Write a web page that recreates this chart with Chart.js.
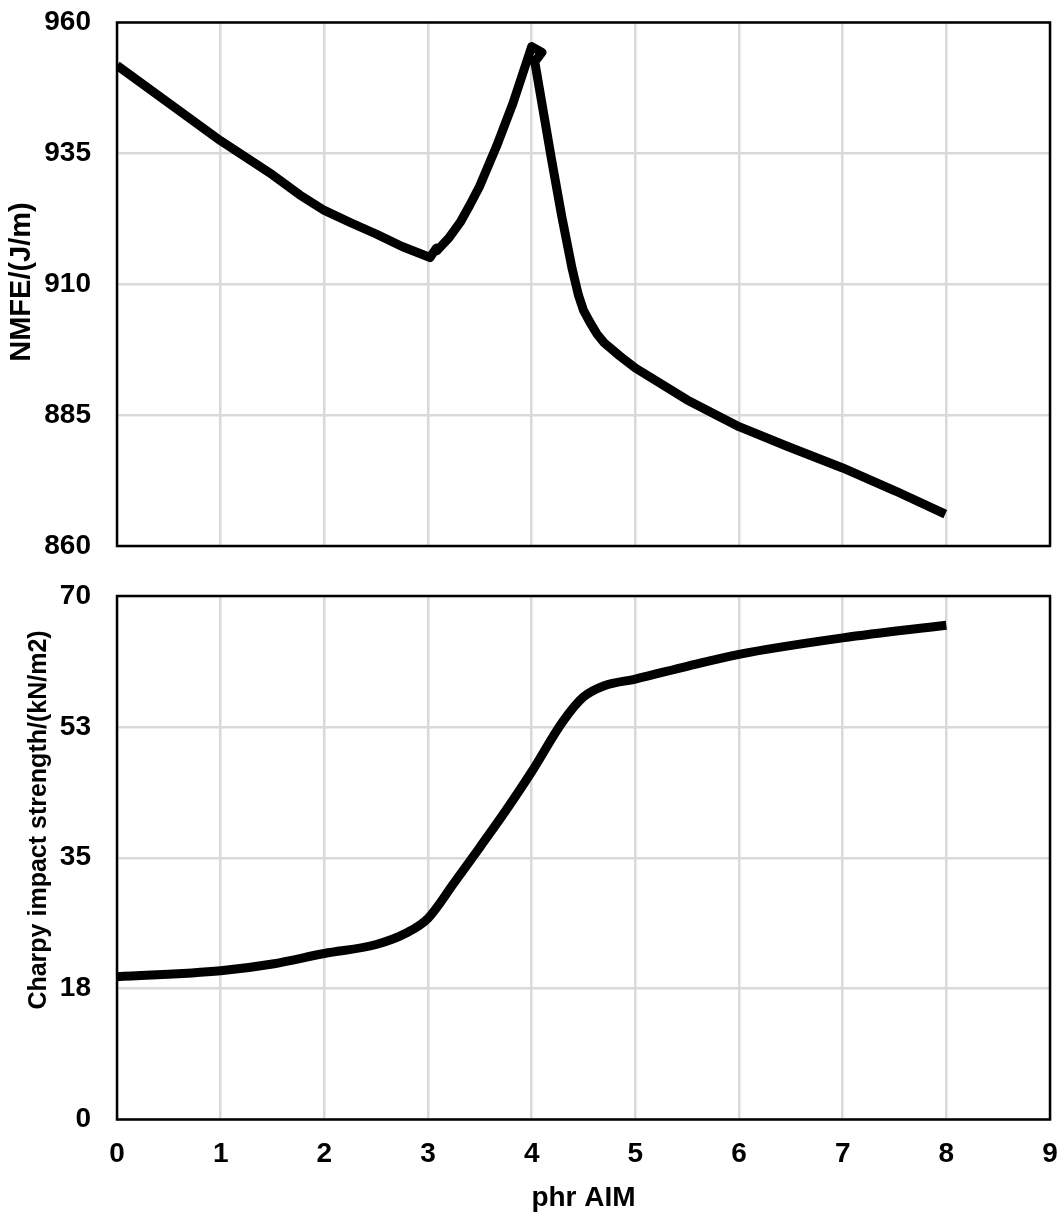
<!DOCTYPE html>
<html>
<head>
<meta charset="utf-8">
<script src="https://cdn.jsdelivr.net/npm/chart.js@4/dist/chart.umd.min.js"></script>
<style>
  html, body { margin: 0; padding: 0; background: #fff; }
  #wrap { position: relative; width: 1064px; height: 1215px; overflow: hidden; background: #fff; }
  #nmfeChart { position: absolute; left: 0; top: 0; }
  #charpyChart { position: absolute; left: 0; top: 570px; }
</style>
</head>
<body>
<div id="wrap">
  <canvas id="nmfeChart" width="1064" height="570"></canvas>
  <canvas id="charpyChart" width="1064" height="645"></canvas>
</div>
<script>
// Notched melt fracture energy vs. AIM loading (phr)
const nmfePhr    = [0, 1.0, 1.5, 1.76, 2.0, 2.26, 2.5, 2.75, 3.02, 3.08, 3.085, 3.2, 3.31, 3.4, 3.5, 3.66, 3.82, 4.0, 4.1, 4.03, 4.19, 4.29, 4.39, 4.45, 4.5, 4.56, 4.63, 4.7, 4.85, 5.0, 5.5, 6.0, 6.47, 7.0, 7.51, 7.99];
const nmfeValues = [951.8, 937.4, 930.9, 927.1, 924.1, 921.7, 919.6, 917.2, 915.1, 916.9, 916.4, 918.8, 921.8, 925.0, 928.8, 936.3, 944.6, 955.4, 954.3, 952.5, 934.0, 923.0, 913.0, 908.0, 905.0, 902.8, 900.5, 898.8, 896.3, 894.0, 887.9, 882.8, 879.0, 874.9, 870.5, 866.1];

// Charpy impact strength vs. AIM loading (phr)
const charpyPhr    = [0, 1, 1.5, 2, 2.5, 2.8, 3, 3.25, 3.5, 3.75, 4, 4.3, 4.5, 4.7, 5, 5.5, 6, 7, 8];
const charpyValues = [19.1, 19.9, 20.8, 22.2, 23.4, 25.0, 26.9, 31.6, 36.4, 41.3, 46.5, 53.2, 56.5, 58.0, 58.9, 60.6, 62.2, 64.4, 66.1];

// Axis ticks
const phrTicks    = [0, 1, 2, 3, 4, 5, 6, 7, 8, 9];
const nmfeTicks   = [860, 885, 910, 935, 960];
const charpyTicks = [0, 17.5, 35, 52.5, 70];

const FONT = '"Liberation Sans", Arial, Helvetica, sans-serif';
const GRID = '#d9d9d9';

// Plot frame on all four sides plus a rotated y-axis title
const frameAndTitle = {
  id: 'frameAndTitle',
  afterDraw(chart, args, opts) {
    const { ctx, chartArea: a } = chart;
    ctx.save();
    ctx.strokeStyle = '#000';
    ctx.lineWidth = 2.5;
    ctx.strokeRect(a.left, a.top, a.right - a.left, a.bottom - a.top);
    ctx.translate(opts.x, opts.y);
    ctx.rotate(-Math.PI / 2);
    ctx.font = 'bold ' + opts.size + 'px ' + FONT;
    ctx.fillStyle = '#000';
    ctx.textAlign = 'center';
    ctx.textBaseline = 'middle';
    ctx.fillText(opts.text, 0, 0);
    ctx.restore();
  }
};

function toPoints(xs, ys) {
  return xs.map((x, i) => ({ x: x, y: ys[i] }));
}

function fixedTicks(values) {
  return function (scale) {
    scale.ticks = values.map(v => ({ value: v }));
  };
}

// Let the layout padding alone decide where the plot area sits
function clearScalePadding(s) {
  s.paddingTop = 0;
  s.paddingBottom = 0;
  s.paddingLeft = 0;
  s.paddingRight = 0;
}

function lineDataset(xs, ys, smooth) {
  return {
    data: toPoints(xs, ys),
    borderColor: '#000',
    borderWidth: 9,
    pointRadius: 0,
    pointHoverRadius: 0,
    fill: false,
    tension: 0,
    cubicInterpolationMode: smooth ? 'monotone' : 'default',
    borderCapStyle: 'butt',
    borderJoinStyle: 'round'
  };
}

function baseOptions(yTicks, yMin, yMax, showX, titleOpts, padding) {
  return {
    responsive: false,
    animation: false,
    devicePixelRatio: 1,
    layout: { padding: padding },
    plugins: {
      legend: { display: false },
      tooltip: { enabled: false },
      frameAndTitle: titleOpts
    },
    scales: {
      x: {
        type: 'linear',
        min: phrTicks[0],
        max: phrTicks[phrTicks.length - 1],
        afterBuildTicks: fixedTicks(phrTicks),
        grid: { color: GRID, lineWidth: 2.5, drawTicks: false },
        border: { display: false },
        ticks: {
          display: showX,
          color: '#000',
          padding: 18,
          font: { family: FONT, size: 28, weight: 'bold' }
        },
        title: {
          display: showX,
          text: 'phr AIM',
          color: '#000',
          padding: { top: 0, bottom: 0 },
          font: { family: FONT, size: 28, weight: 'bold' }
        },
        afterFit: function (s) {
          clearScalePadding(s);
          if (showX) s.height = 95.5;
        }
      },
      y: {
        type: 'linear',
        min: yMin,
        max: yMax,
        afterBuildTicks: fixedTicks(yTicks),
        grid: { color: GRID, lineWidth: 2.5, drawTicks: false },
        border: { display: false },
        ticks: {
          color: '#000',
          padding: 26,
          font: { family: FONT, size: 28, weight: 'bold' },
          callback: v => String(Math.round(v))
        },
        afterFit: function (s) {
          clearScalePadding(s);
          s.width = 117;
        }
      }
    }
  };
}

new Chart(document.getElementById('nmfeChart'), {
  type: 'line',
  data: { datasets: [lineDataset(nmfePhr, nmfeValues, false)] },
  options: baseOptions(nmfeTicks, 860, 960, false,
    { text: 'NMFE/(J/m)', x: 22, y: 282, size: 29 },
    { left: 0, right: 14, top: 22.5, bottom: 24 }),
  plugins: [frameAndTitle]
});

new Chart(document.getElementById('charpyChart'), {
  type: 'line',
  data: { datasets: [lineDataset(charpyPhr, charpyValues, true)] },
  options: baseOptions(charpyTicks, 0, 70, true,
    { text: 'Charpy impact strength/(kN/m2)', x: 39, y: 250, size: 25 },
    { left: 0, right: 14, top: 26, bottom: 0 }),
  plugins: [frameAndTitle]
});
</script>
</body>
</html>
